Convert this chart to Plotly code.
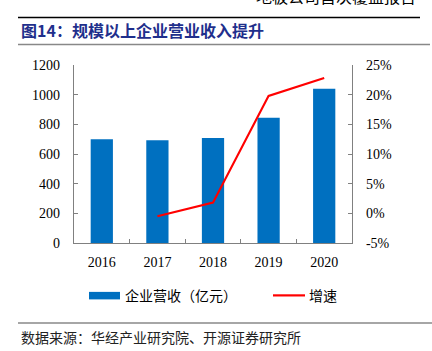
import plotly.graph_objects as go

years = ["2016", "2017", "2018", "2019", "2020"]
revenue = [700, 692, 708, 845, 1040]
growth = [None, -0.5, 1.8, 19.8, 22.8]
left_ticks = [0, 200, 400, 600, 800, 1000, 1200]
right_ticks = [-5, 0, 5, 10, 15, 20, 25]
right_labels = [f"{v}%" for v in right_ticks]

BLUE = "#0070C0"
RED = "#FF0000"
GRAY = "#808080"
SERIF = "Liberation Serif, Times New Roman, serif"
CJK = "Noto Sans CJK SC, sans-serif"

W, H = 432, 351
L, R, T, B = 74, 352, 65, 242.7

def px(x):
    return (x - L) / (R - L)

def py(y):
    return (B - y) / (B - T)

fig = go.Figure()
fig.add_trace(go.Bar(x=years, y=revenue, marker=dict(color=BLUE, line=dict(width=0)),
                     width=0.4, name="企业营收（亿元）", yaxis="y"))
fig.add_trace(go.Scatter(x=years, y=growth, mode="lines", line=dict(color=RED, width=2.2),
                         name="增速", yaxis="y2", connectgaps=False))

fig.update_layout(
    width=W, height=H,
    margin=dict(l=L, r=W - R, t=T, b=H - B),
    paper_bgcolor="white", plot_bgcolor="white",
    showlegend=False,
    bargap=0.6,
    xaxis=dict(type="category", tickson="boundaries", ticks="inside", ticklen=4,
               tickcolor=GRAY, showline=True, linecolor=GRAY, linewidth=1.2,
               showgrid=False, tickfont=dict(family=SERIF, size=14, color="black"),
               ticklabelstandoff=6),
    yaxis=dict(range=[0, 1200], tickvals=left_ticks, ticks="inside", ticklen=4,
               tickcolor=GRAY, showline=True, linecolor=GRAY, linewidth=1.2,
               showgrid=False, zeroline=False,
               tickfont=dict(family=SERIF, size=14, color="black"),
               ticklabelstandoff=10),
    yaxis2=dict(range=[-5, 25], tickmode="array", tickvals=right_ticks, ticktext=right_labels,
                overlaying="y", side="right", ticks="inside", ticklen=4, tickcolor=GRAY,
                showline=True, linecolor=GRAY, linewidth=1.2, showgrid=False, zeroline=False,
                tickfont=dict(family=SERIF, size=14, color="black"),
                ticklabelstandoff=10),
)

shapes = []
annotations = []
# header line and cut-off header text
shapes.append(dict(type="line", xref="paper", yref="paper", x0=px(18), x1=px(420),
                   y0=py(17.5), y1=py(17.5), line=dict(color="black", width=1.5)))
annotations.append(dict(xref="paper", yref="paper", x=px(418), y=py(10), xanchor="right",
                        yanchor="bottom", showarrow=False,
                        text="地板公司首次覆盖报告",
                        font=dict(family=CJK, size=16, color="black")))
# title
annotations.append(dict(xref="paper", yref="paper", x=px(19), y=py(30), xanchor="left",
                        yanchor="middle", showarrow=False,
                        text="<b>图14：规模以上企业营业收入提升</b>",
                        font=dict(family=CJK, size=16, color="#1F2F8C")))
shapes.append(dict(type="line", xref="paper", yref="paper", x0=px(18), x1=px(430),
                   y0=py(44.5), y1=py(44.5), line=dict(color="#888888", width=1.5)))
# legend
shapes.append(dict(type="rect", xref="paper", yref="paper", x0=px(89), x1=px(120),
                   y0=py(291.5), y1=py(299), fillcolor=BLUE, line=dict(width=0)))
annotations.append(dict(xref="paper", yref="paper", x=px(123), y=py(295), xanchor="left",
                        yanchor="middle", showarrow=False, text="企业营收（亿元）",
                        font=dict(family=CJK, size=14, color="black")))
shapes.append(dict(type="line", xref="paper", yref="paper", x0=px(273), x1=px(305),
                   y0=py(295), y1=py(295), line=dict(color=RED, width=2.2)))
annotations.append(dict(xref="paper", yref="paper", x=px(307), y=py(295), xanchor="left",
                        yanchor="middle", showarrow=False, text="增速",
                        font=dict(family=CJK, size=14, color="black")))
# source
shapes.append(dict(type="line", xref="paper", yref="paper", x0=px(18), x1=px(432),
                   y0=py(322.5), y1=py(322.5), line=dict(color="#888888", width=1.5)))
annotations.append(dict(xref="paper", yref="paper", x=px(19), y=py(337), xanchor="left",
                        yanchor="middle", showarrow=False,
                        text="数据来源：华经产业研究院、开源证券研究所",
                        font=dict(family=CJK, size=14, color="#222222")))

fig.update_layout(shapes=shapes, annotations=annotations)
fig.write_html("out.html")
